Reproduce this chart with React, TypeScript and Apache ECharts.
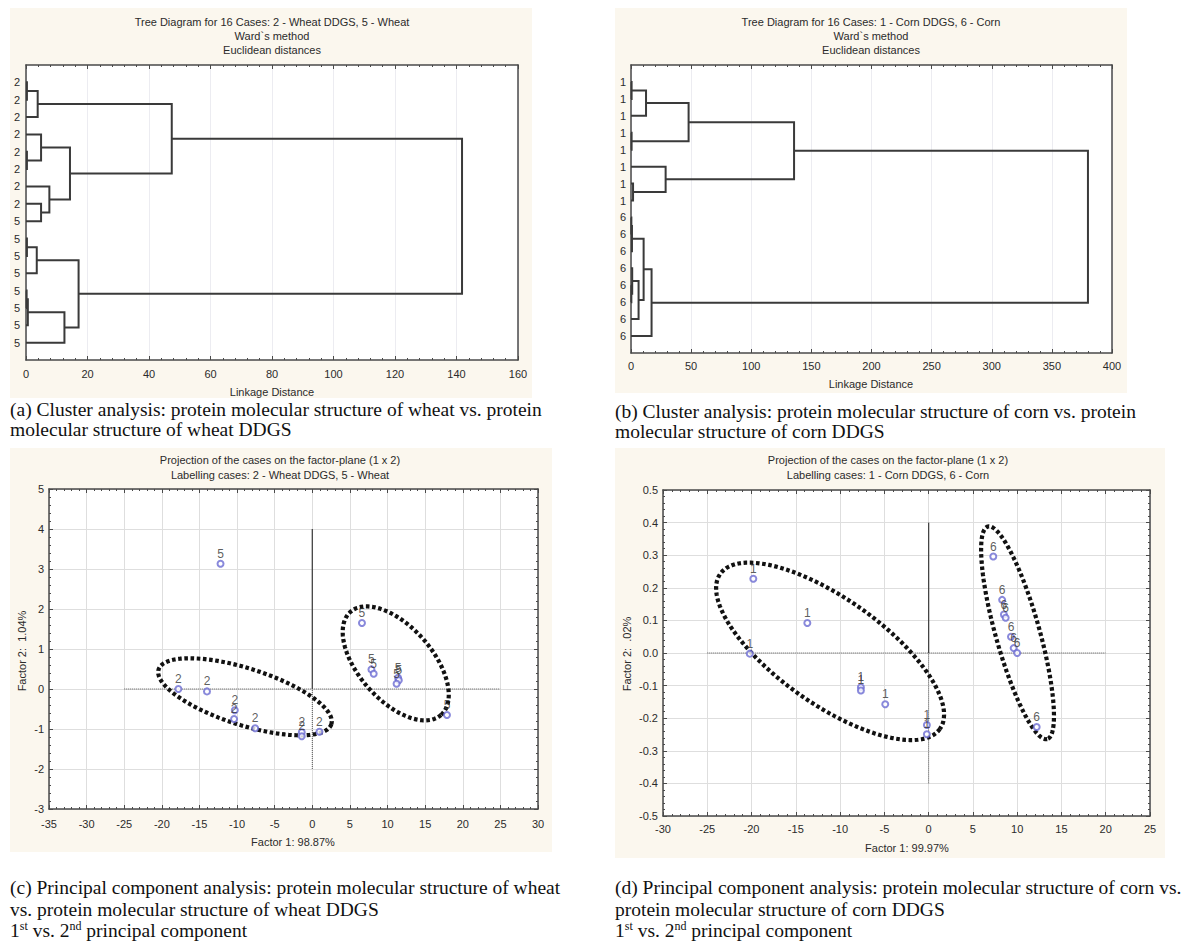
import React, { useEffect, useRef } from 'react';
import * as echarts from 'echarts';

// ---------- Data ----------
// Dendrogram (a): leaf labels top-to-bottom and merges [childA, childB, linkage distance]
const leafLabelsA = ['2', '2', '2', '2', '2', '2', '2', '2', '5', '5', '5', '5', '5', '5', '5', '5'];
const mergesA: [number, number, number][] = [
  [1, 2, 0.3], [17, 3, 3.8], [5, 6, 0.3], [4, 19, 4.9], [8, 9, 4.9], [7, 21, 7.6],
  [20, 22, 14.3], [18, 23, 47.4], [10, 11, 0.3], [25, 12, 3.5], [13, 14, 0.2],
  [27, 15, 0.6], [28, 16, 12.5], [26, 29, 17.1], [24, 30, 141.8],
];
const xTicksA = { min: 0, max: 160, interval: 20 };

// Dendrogram (b)
const leafLabelsB = ['1', '1', '1', '1', '1', '1', '1', '1', '6', '6', '6', '6', '6', '6', '6', '6'];
const mergesB: [number, number, number][] = [
  [1, 2, 0.5], [17, 3, 12.5], [4, 5, 0.5], [18, 19, 47.9], [7, 8, 1.7], [6, 21, 28.8],
  [20, 22, 135.6], [9, 10, 0.3], [24, 11, 0.8], [13, 14, 0.3], [12, 26, 1.0],
  [27, 15, 6.3], [25, 28, 10.5], [29, 16, 17.1], [23, 30, 380],
];
const xTicksB = { min: 0, max: 400, interval: 50 };

// PCA (c): wheat DDGS (2) and wheat (5)
const wheatDDGSx = [-17.8, -14.0, -10.3, -10.4, -7.6, -1.4, -1.4, 0.95];
const wheatDDGSy = [0.0, -0.06, -0.53, -0.75, -0.98, -1.08, -1.18, -1.07];
const wheatX = [-12.2, 6.6, 7.86, 8.16, 11.4, 11.5, 11.2, 17.9];
const wheatY = [3.13, 1.65, 0.49, 0.38, 0.28, 0.22, 0.13, -0.65];
// ellipse: [centerX, centerY, axis1X, axis1Y, axis2X, axis2Y] in data units
const ellipseWheatDDGS = [-8.95, -0.195, 11.48, -0.685, -1.14, -0.677];
const ellipseWheat = [11.09, 0.64, 6.02, -1.29, -3.67, -0.605];
const zeroHC = [[-25, 0], [25, 0]];
const zeroVCup = [[0, 0], [0, 4]];
const zeroVCdown = [[0, -2], [0, 0]];

// PCA (d): corn DDGS (1) and corn (6)
const cornDDGSx = [-19.8, -13.7, -20.2, -7.65, -7.65, -4.9, -0.2, -0.2];
const cornDDGSy = [0.228, 0.092, -0.002, -0.105, -0.115, -0.157, -0.221, -0.249];
const cornX = [7.3, 8.3, 8.5, 8.7, 9.3, 9.6, 10.0, 12.2];
const cornY = [0.296, 0.163, 0.118, 0.108, 0.05, 0.015, 0.0, -0.227];
const ellipseCornDDGS = [-11.13, 0.005, 12.4, -0.238, -3.46, -0.132];
const ellipseCorn = [10.04, 0.062, 3.35, -0.326, -2.39, -0.018];
const zeroHD = [[-25, 0], [20, 0]];
const zeroVDup = [[0, 0], [0, 0.4]];
const zeroVDdown = [[0, -0.4], [0, 0]];

// ---------- Styles ----------
const SANS = '"Liberation Sans", Arial, sans-serif';
const SERIF = '"Liberation Serif", "Times New Roman", serif';
const AXIS = '#4a4a4a';
const TXT = '#2b2b2b';
const CREAM = '#fbf7ee';

function dendroSegments(merges: [number, number, number][], n: number) {
  const nodes: Record<number, { h: number; y: number }> = {};
  for (let i = 1; i <= n; i++) nodes[i] = { h: 0, y: i };
  const segs: number[][][] = [];
  merges.forEach(([a, b, h], k) => {
    const A = nodes[a];
    const B = nodes[b];
    segs.push([[A.h, A.y], [h, A.y], [h, B.y], [B.h, B.y]]);
    nodes[n + 1 + k] = { h, y: (A.y + B.y) / 2 };
  });
  return segs;
}

function ellipse(e: number[]) {
  const pts: number[][] = [];
  const N = 120;
  for (let i = 0; i <= N; i++) {
    const t = (i / N) * Math.PI * 2;
    pts.push([e[0] + e[2] * Math.cos(t) + e[4] * Math.sin(t), e[1] + e[3] * Math.cos(t) + e[5] * Math.sin(t)]);
  }
  return pts;
}

function xAxes(grid: number, min: number, max: number, interval: number, margin: number, split: string, fmt?: (v: number) => string) {
  const common = {
    type: 'value', gridIndex: grid, min, max, interval,
    axisLine: { show: true, onZero: false, lineStyle: { color: AXIS, width: 1.5 } },
    axisTick: { show: true, inside: true, length: 4, lineStyle: { color: AXIS } },
    minorTick: { show: true, splitNumber: 5, length: 2, lineStyle: { color: AXIS } },
  };
  return [
    {
      ...common, position: 'bottom',
      axisLabel: { show: true, margin, fontSize: 11, color: TXT, fontFamily: SANS, formatter: fmt },
      splitLine: { show: true, lineStyle: { color: split, width: 1 } },
    },
    { ...common, position: 'top', axisLabel: { show: false }, splitLine: { show: false } },
  ];
}

function yAxesValue(grid: number, min: number, max: number, interval: number, margin: number, split: string, fmt?: (v: number) => string) {
  const common = {
    type: 'value', gridIndex: grid, min, max, interval,
    axisLine: { show: true, onZero: false, lineStyle: { color: AXIS, width: 1.5 } },
    axisTick: { show: true, inside: true, length: 4, lineStyle: { color: AXIS } },
    minorTick: { show: true, splitNumber: 5, length: 2, lineStyle: { color: AXIS } },
  };
  return [
    {
      ...common, position: 'left',
      axisLabel: { show: true, margin, fontSize: 11, color: TXT, fontFamily: SANS, formatter: fmt },
      splitLine: { show: true, lineStyle: { color: split, width: 1 } },
    },
    { ...common, position: 'right', axisLabel: { show: false }, splitLine: { show: false } },
  ];
}

function yAxesDendro(grid: number, labels: string[], margin: number) {
  const common = {
    type: 'value', gridIndex: grid, min: 0, max: labels.length + 1, interval: 1, inverse: true,
    axisLine: { show: true, onZero: false, lineStyle: { color: AXIS, width: 1.5 } },
    axisTick: { show: false },
    splitLine: { show: false },
  };
  return [
    {
      ...common, position: 'left',
      axisLabel: {
        show: true, margin, fontSize: 11, color: TXT, fontFamily: SANS,
        formatter: (v: number) => labels[Math.round(v) - 1] ?? '',
      },
    },
    { ...common, position: 'right', axisLabel: { show: false } },
  ];
}

function scatter(idx: number, xs: number[], ys: number[], name: string) {
  return {
    type: 'scatter', xAxisIndex: idx, yAxisIndex: idx, symbol: 'emptyCircle', symbolSize: 6,
    itemStyle: { color: '#6b6bd2', borderWidth: 1 },
    label: { show: true, position: 'top', distance: 0, formatter: '{b}', fontSize: 12, color: '#333', fontFamily: SANS },
    labelLayout: { hideOverlap: false },
    data: xs.map((x, i) => ({ name, value: [x, ys[i]] })),
    z: 6, silent: true,
  };
}

function lineSeries(idx: number, data: number[][], style: any, z = 3) {
  return {
    type: 'line', xAxisIndex: idx, yAxisIndex: idx, data, showSymbol: false, symbol: 'none',
    lineStyle: style, silent: true, z,
  };
}

const DOT_ELLIPSE = { color: '#111', width: 4.2, type: [3.6, 2.6] };
const DOT_ZERO = { color: '#555', width: 1, type: [1, 1] };
const SOLID_ZERO = { color: '#444', width: 1.3, type: 'solid' };

function txt(x: number, y: number, text: string, opts: any = {}) {
  return {
    type: 'text', x, y, silent: true, z: 10,
    rotation: opts.rotation || 0,
    style: {
      text, fill: opts.fill || TXT,
      font: opts.font || `11px ${SANS}`,
      align: opts.align || 'center', verticalAlign: 'middle',
    },
  };
}

const CAP_SIZE = 19.5;

function caption(x: number, y: number, text: string) {
  return txt(x, y, text, { align: 'left', font: `${CAP_SIZE}px ${SERIF}`, fill: '#111' });
}

function supCaption(x: number, y: number) {
  return {
    type: 'text', x, y, silent: true, z: 10,
    style: {
      text: '{n|1}{s|st}{n| vs. 2}{s|nd}{n| principal component}',
      align: 'left', verticalAlign: 'middle',
      rich: {
        n: { fontSize: CAP_SIZE, fontFamily: SERIF, fill: '#111', lineHeight: 21, verticalAlign: 'bottom' },
        s: { fontSize: 12, fontFamily: SERIF, fill: '#111', lineHeight: 21, verticalAlign: 'top' },
      },
    },
  };
}

function buildOption() {
  const segA = dendroSegments(mergesA, leafLabelsA.length);
  const segB = dendroSegments(mergesB, leafLabelsB.length);
  const gx = (g: number) => 2 * g;

  const dendroLines = (g: number, segs: number[][][]) => ({
    type: 'lines', coordinateSystem: 'cartesian2d', xAxisIndex: gx(g), yAxisIndex: gx(g), polyline: true,
    data: segs.map((c) => ({ coords: c })),
    lineStyle: { color: '#3a3a3a', width: 2, opacity: 1 }, silent: true, z: 4,
  });

  return {
    animation: false,
    backgroundColor: '#ffffff',
    grid: [
      { left: 26, top: 65, width: 492, height: 295, show: true, backgroundColor: '#ffffff', borderWidth: 0 },
      { left: 631, top: 65, width: 481, height: 288, show: true, backgroundColor: '#ffffff', borderWidth: 0 },
      { left: 49, top: 489, width: 489, height: 320, show: true, backgroundColor: '#ffffff', borderWidth: 0 },
      { left: 663, top: 490, width: 487, height: 326, show: true, backgroundColor: '#ffffff', borderWidth: 0 },
    ],
    xAxis: [
      ...xAxes(0, xTicksA.min, xTicksA.max, xTicksA.interval, 8, '#ececf1'),
      ...xAxes(1, xTicksB.min, xTicksB.max, xTicksB.interval, 7, '#ececf1'),
      ...xAxes(2, -35, 30, 5, 9, '#dedede'),
      ...xAxes(3, -30, 25, 5, 7, '#dedede'),
    ],
    yAxis: [
      ...yAxesDendro(0, leafLabelsA, 6),
      ...yAxesDendro(1, leafLabelsB, 5),
      ...yAxesValue(2, -3, 5, 1, 5, '#dedede'),
      ...yAxesValue(3, -0.5, 0.5, 0.1, 5, '#dedede', (v: number) => v.toFixed(1)),
    ],
    series: [
      dendroLines(0, segA),
      dendroLines(1, segB),
      lineSeries(gx(2), zeroHC, DOT_ZERO),
      lineSeries(gx(2), zeroVCup, SOLID_ZERO),
      lineSeries(gx(2), zeroVCdown, DOT_ZERO),
      lineSeries(gx(2), ellipse(ellipseWheatDDGS), DOT_ELLIPSE, 4),
      lineSeries(gx(2), ellipse(ellipseWheat), DOT_ELLIPSE, 4),
      scatter(gx(2), wheatDDGSx, wheatDDGSy, '2'),
      scatter(gx(2), wheatX, wheatY, '5'),
      lineSeries(gx(3), zeroHD, DOT_ZERO),
      lineSeries(gx(3), zeroVDup, SOLID_ZERO),
      lineSeries(gx(3), zeroVDdown, DOT_ZERO),
      lineSeries(gx(3), ellipse(ellipseCornDDGS), DOT_ELLIPSE, 4),
      lineSeries(gx(3), ellipse(ellipseCorn), DOT_ELLIPSE, 4),
      scatter(gx(3), cornDDGSx, cornDDGSy, '1'),
      scatter(gx(3), cornX, cornY, '6'),
    ],
    graphic: {
      elements: [
        { type: 'rect', shape: { x: 10, y: 8, width: 522, height: 390 }, style: { fill: CREAM }, z: -10, silent: true },
        { type: 'rect', shape: { x: 615, y: 8, width: 512, height: 385 }, style: { fill: CREAM }, z: -10, silent: true },
        { type: 'rect', shape: { x: 10, y: 448, width: 542, height: 404 }, style: { fill: CREAM }, z: -10, silent: true },
        { type: 'rect', shape: { x: 615, y: 448, width: 550, height: 410 }, style: { fill: CREAM }, z: -10, silent: true },

        txt(272, 22, 'Tree Diagram for 16 Cases: 2 - Wheat DDGS, 5 - Wheat'),
        txt(272, 36, 'Ward`s method'),
        txt(272, 50, 'Euclidean distances'),
        txt(272, 392, 'Linkage Distance'),
        txt(871, 22, 'Tree Diagram for 16 Cases: 1 - Corn DDGS, 6 - Corn'),
        txt(871, 36, 'Ward`s method'),
        txt(871, 50, 'Euclidean distances'),
        txt(871, 384, 'Linkage Distance'),

        txt(280, 460, 'Projection of the cases on the factor-plane (1 x 2)'),
        txt(280, 475, 'Labelling cases: 2 - Wheat DDGS, 5 - Wheat'),
        txt(293, 842, 'Factor 1: 98.87%'),
        txt(22, 651, 'Factor 2:  1.04%', { rotation: Math.PI / 2 }),
        txt(888, 460, 'Projection of the cases on the factor-plane (1 x 2)'),
        txt(888, 475, 'Labelling cases: 1 - Corn DDGS, 6 - Corn'),
        txt(907, 848, 'Factor 1: 99.97%'),
        txt(627, 654, 'Factor 2:  .02%', { rotation: Math.PI / 2 }),

        caption(10, 409, '(a) Cluster analysis: protein molecular structure of wheat vs. protein'),
        caption(10, 429, 'molecular structure of wheat DDGS'),
        caption(615, 411, '(b) Cluster analysis: protein molecular structure of corn vs. protein'),
        caption(615, 431, 'molecular structure of corn DDGS'),
        caption(10, 887, '(c) Principal component analysis: protein molecular structure of wheat'),
        caption(10, 909, 'vs. protein molecular structure of wheat DDGS'),
        supCaption(10, 930),
        caption(615, 887, '(d) Principal component analysis: protein molecular structure of corn vs.'),
        caption(615, 909, 'protein molecular structure of corn DDGS'),
        supCaption(615, 930),
      ],
    },
  };
}

export default function App() {
  const ref = useRef<HTMLDivElement>(null);
  useEffect(() => {
    document.body.style.margin = '0';
    document.body.style.overflow = 'hidden';
    const chart = echarts.init(ref.current as HTMLDivElement, null, { renderer: 'svg' });
    chart.setOption(buildOption() as any);
    return () => chart.dispose();
  }, []);
  return <div ref={ref} style={{ position: 'absolute', left: 0, top: 0, width: 1197, height: 944 }} />;
}
